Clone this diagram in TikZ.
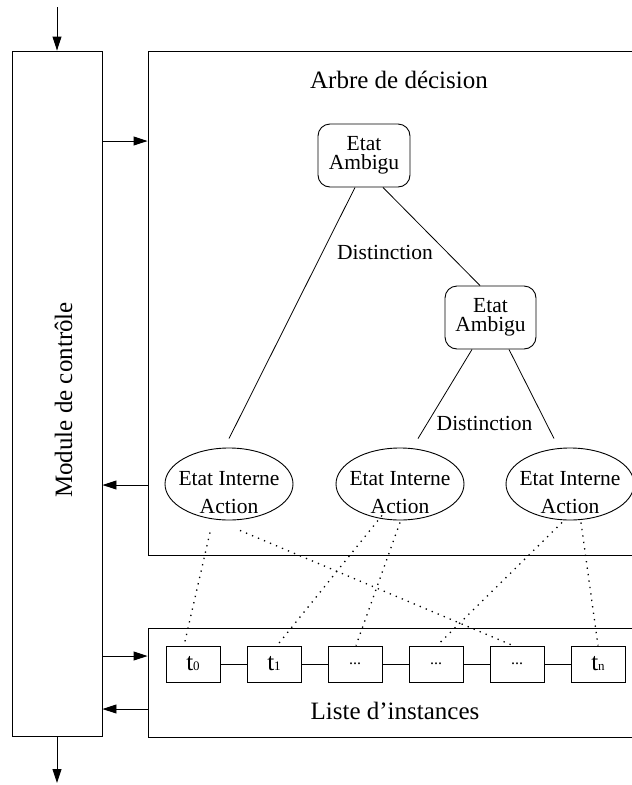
\documentclass[tikz,border=0pt]{standalone}
\usepackage{fontspec}
\setmainfont{Liberation Serif}
\usetikzlibrary{arrows.meta,shapes.geometric}
\newcommand\subsc[1]{{\fontsize{13}{13}\selectfont #1}}
\begin{document}
\begin{tikzpicture}[x=1pt,y=-1pt,
  box/.style={draw,line width=0.9pt,inner sep=0pt,rectangle},
  amb/.style={draw,line width=0.9pt,rounded corners=12pt,minimum width=92pt,minimum height=63pt,inner sep=0pt,align=center,font=\fontsize{21.5}{19}\selectfont},
  ell/.style={draw,line width=0.9pt,ellipse,minimum width=128pt,minimum height=72pt,inner sep=0pt},
  elltxt/.style={inner sep=0pt,align=center,font=\fontsize{21.5}{28}\selectfont},
  ibox/.style={draw,line width=0.9pt,minimum width=54pt,minimum height=36pt,inner sep=0pt,font=\fontsize{25}{25}\selectfont},
  big/.style={inner sep=0pt,font=\fontsize{25}{30}\selectfont},
  mid/.style={inner sep=0pt,font=\fontsize{21.5}{26}\selectfont},
  arr/.style={line width=0.9pt,-{Triangle[length=14pt,width=9pt]}},
  edge/.style={line width=0.8pt},
  dots/.style={line width=1.3pt,dash pattern=on 1.3pt off 5.2pt}
]
\useasboundingbox (0,0) rectangle (632,785);

% main boxes
\node[box,minimum width=90pt,minimum height=685pt] (module) at (57,393.5) {};
\node[box,minimum width=492pt,minimum height=504pt] (arbre) at (394,303) {};
\node[box,minimum width=492pt,minimum height=109pt] (liste) at (394,682.5) {};

\node[big,rotate=90,anchor=base] (modtxt) at (72,400) {Module de contrôle};
\node[big,anchor=base] (arbretxt) at (399,88) {Arbre de décision};
\node[big,anchor=base] (listetxt) at (395,719) {Liste d’instances};

% arrows of the control module
\coordinate (in) at (57,7);
\coordinate (out) at (57,783);
\coordinate (ya) at (0,141);
\coordinate (yb) at (0,485);
\coordinate (yc) at (0,656);
\coordinate (yd) at (0,709);
\draw[arr] (in) -- (module.north);
\draw[arr] (module.south) -- (out);
\draw[arr] (module.east |- ya) -- (arbre.west |- ya);
\draw[arr] (arbre.west |- yb) -- (module.east |- yb);
\draw[arr] (module.east |- yc) -- (liste.west |- yc);
\draw[arr] (liste.west |- yd) -- (module.east |- yd);

% decision tree
\node[amb] (a1) at (364,155.5) {Etat\\Ambigu};
\node[amb,minimum width=91pt] (a2) at (490.5,317.5) {Etat\\Ambigu};

\node[ell] (e1) at (229,484) {};
\node[ell] (e2) at (400,484) {};
\node[ell] (e3) at (570,484) {};
\node[elltxt] (e1t) at ([yshift=-9pt]e1.center) {Etat Interne\\Action};
\node[elltxt] (e2t) at ([yshift=-9pt]e2.center) {Etat Interne\\Action};
\node[elltxt] (e3t) at ([yshift=-9pt]e3.center) {Etat Interne\\Action};

\draw[edge] ([xshift=-9pt]a1.south) -- ([yshift=9pt]e1.north);
\draw[edge] ([xshift=19pt]a1.south) -- ([xshift=-10.5pt]a2.north);
\draw[edge] ([xshift=-18.5pt]a2.south) -- ([xshift=18pt,yshift=9pt]e2.north);
\draw[edge] ([xshift=18.5pt]a2.south) -- ([xshift=-16pt,yshift=9pt]e3.north);

\node[mid,anchor=base] (d1lab) at (385,259) {Distinction};
\node[mid,anchor=base] (d2lab) at (484.5,430) {Distinction};

% instance list
\node[ibox] (t0) at (193,664) {t\subsc{0}};
\node[ibox] (t1) at (274,664) {t\subsc{1}};
\node[ibox,font=\fontsize{16}{16}\selectfont] (d1) at (355,664) {...};
\node[ibox,font=\fontsize{16}{16}\selectfont] (d2) at (436,664) {...};
\node[ibox,font=\fontsize{16}{16}\selectfont] (d3) at (517,664) {...};
\node[ibox] (tn) at (598,664) {t\subsc{n}};
\draw[edge] (t0) -- (t1) -- (d1) -- (d2) -- (d3) -- (tn);

% dotted links
\draw[dots] ([xshift=-19pt,yshift=-12pt]e1.south) -- ([xshift=-9pt]t0.north);
\draw[dots] ([xshift=11pt,yshift=-10pt]e1.south) -- ([xshift=-4pt]d3.north);
\draw[dots] ([xshift=-18pt,yshift=5pt]e2.south) -- ([xshift=3pt]t1.north);
\draw[dots] ([yshift=-2pt]e2.south) -- ([xshift=1pt]d1.north);
\draw[dots] ([xshift=-8pt,yshift=-2pt]e3.south) -- ([xshift=1pt]d2.north);
\draw[dots] ([xshift=11pt,yshift=-2pt]e3.south) -- (tn.north);
\end{tikzpicture}
\end{document}
